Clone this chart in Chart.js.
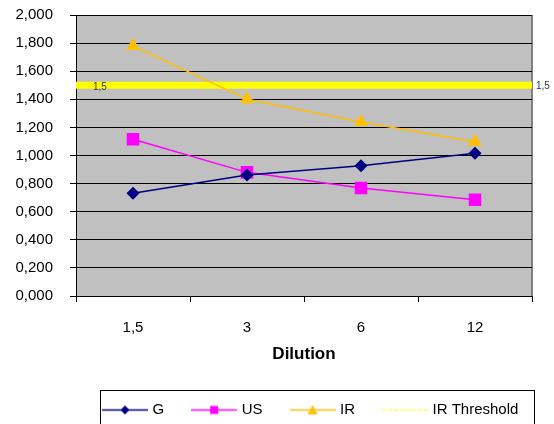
<!DOCTYPE html>
<html>
<head>
<meta charset="utf-8">
<script src="https://cdn.jsdelivr.net/npm/chart.js@4.4.0/dist/chart.umd.min.js"></script>
<style>
  html, body { margin: 0; padding: 0; background: #fff; }
  #wrap { width: 554px; height: 424px; }
</style>
</head>
<body>
<div id="wrap"><canvas id="myChart" width="554" height="424"></canvas></div>
<script>
let dilutions = ['1,5', '3', '6', '12'];
let gValues = [0.731, 0.861, 0.927, 1.016];
let usValues = [1.115, 0.88, 0.769, 0.685];
let irValues = [1.78, 1.40, 1.238, 1.098];
let irThreshold = [1.5, 1.5]; /* runs edge to edge on the hidden x2 axis */
let yMin = 0, yMax = 2, yStep = 0.2;

Chart.defaults.font.family = "'Liberation Sans', Arial, sans-serif";
Chart.defaults.color = '#000';

/* little line+marker pictures for the legend */
function legendIcon(color, marker, dashed) {
  let c = document.createElement('canvas');
  c.width = 46; c.height = 13;
  let ctx = c.getContext('2d');
  ctx.strokeStyle = color;
  ctx.lineWidth = dashed ? 1 : 1.5;
  if (dashed) ctx.setLineDash([4, 2]);
  ctx.beginPath(); ctx.moveTo(0, 6.5); ctx.lineTo(46, 6.5); ctx.stroke();
  ctx.setLineDash([]);
  ctx.fillStyle = color;
  ctx.beginPath();
  if (marker === 'diamond') {
    ctx.moveTo(23, 2); ctx.lineTo(27.5, 6.5); ctx.lineTo(23, 11); ctx.lineTo(18.5, 6.5);
  } else if (marker === 'square') {
    ctx.rect(19, 2.5, 8, 8);
  } else if (marker === 'triangle') {
    ctx.moveTo(23, 1.5); ctx.lineTo(28, 11); ctx.lineTo(18, 11);
  }
  ctx.closePath();
  if (marker) ctx.fill();
  return c;
}
let icons = [
  legendIcon('#000080', 'diamond'),
  legendIcon('#ff00ff', 'square'),
  legendIcon('#ffc000', 'triangle'),
  legendIcon('#ffff00', null, true)
];

const frame = {
  id: 'frame',
  beforeDraw(chart) {
    const {ctx, chartArea: a} = chart;
    ctx.save();
    ctx.fillStyle = '#c0c0c0';
    ctx.fillRect(a.left, a.top, a.right - a.left, a.bottom - a.top);
    ctx.strokeStyle = '#808080';
    ctx.lineWidth = 2;
    ctx.beginPath(); ctx.moveTo(a.right, a.top); ctx.lineTo(a.right, a.bottom); ctx.stroke();
    ctx.restore();
  },
  afterLayout(chart) {
    chart.legend.left = 75;
    chart.legend.right = 560;
    chart.legend.top += 3.5;
  },
  afterDraw(chart) {
    const ctx = chart.ctx;
    ctx.save();
    // legend frame
    ctx.strokeStyle = '#000';
    ctx.lineWidth = 1;
    ctx.strokeRect(100.5, 390.5, 434, 40);
    // threshold value labels
    const pts = chart.getDatasetMeta(3).data;
    ctx.fillStyle = '#333';
    ctx.font = "10px 'Liberation Sans', Arial";
    ctx.textBaseline = 'middle';
    ctx.fillText('1,5', pts[0].x + 17, pts[0].y + 1.5);
    ctx.fillText('1,5', pts[pts.length - 1].x + 4, pts[pts.length - 1].y + 0.5);
    ctx.restore();
  }
};

let myChart1 = document.getElementById('myChart').getContext('2d');

let Chart1 = new Chart(myChart1, {
  type: 'line',
  data: {
    labels: dilutions,
    datasets: [
      { label: 'G', data: gValues, borderColor: '#000080', backgroundColor: '#000080',
        borderWidth: 1.5, pointStyle: 'rectRot', pointRadius: 5.5 },
      { label: 'US', data: usValues, borderColor: '#ff00ff', backgroundColor: '#ff00ff',
        borderWidth: 1.5, pointStyle: 'rect', pointRadius: 7.8 },
      { label: 'IR', data: irValues, borderColor: '#ffc000', backgroundColor: '#ffc000',
        borderWidth: 1.5, pointStyle: 'triangle', pointRadius: 6.5 },
      { label: 'IR Threshold', data: irThreshold, xAxisID: 'x2', borderColor: '#ffff00',
        borderWidth: 7, pointRadius: 0 },
      { label: 'dots', data: irThreshold, xAxisID: 'x2', borderColor: 'rgba(255,255,255,0.85)',
        borderWidth: 1.5, borderDash: [1.5, 7], pointRadius: 0 }
    ]
  },
  options: {
    responsive: false,
    animation: false,
    devicePixelRatio: 1,
    layout: { padding: { top: 15, right: 22, left: 0, bottom: 0 } },
    scales: {
      x: {
        offset: true,
        grid: { offset: true, drawOnChartArea: false, drawTicks: true, tickLength: 6, color: '#000' },
        border: { color: '#000', width: 1 },
        ticks: { font: { size: 15 }, padding: 17, maxRotation: 0 },
        title: { display: true, text: 'Dilution', font: { size: 17, weight: 'bold' }, padding: { top: 0, bottom: 4 } },
        afterFit(scale) { scale.height = 73; }
      },
      x2: {
        type: 'category', labels: ['a', 'b'], offset: false, display: false
      },
      y: {
        min: yMin, max: yMax,
        grid: { color: '#000', tickLength: 6, lineWidth: 1 },
        border: { color: '#000', width: 1 },
        ticks: {
          stepSize: yStep, font: { size: 15 }, padding: 17,
          callback: v => v.toFixed(3).replace('.', ',')
        },
        afterFit(scale) {
          scale.width = 76;
          scale.paddingTop = 0;
          scale.paddingBottom = 0;
        }
      }
    },
    plugins: {
      legend: {
        position: 'bottom',
        align: 'start',
        labels: {
          usePointStyle: true, pointStyleWidth: 40, padding: 30,
          font: { size: 15 }, color: '#000',
          filter: item => item.text !== 'dots',
          generateLabels(chart) {
            let items = Chart.defaults.plugins.legend.labels.generateLabels(chart);
            items.forEach(it => { if (icons[it.datasetIndex]) it.pointStyle = icons[it.datasetIndex]; });
            return items;
          }
        }
      },
      tooltip: { enabled: false }
    }
  },
  plugins: [frame]
});
</script>
</body>
</html>
